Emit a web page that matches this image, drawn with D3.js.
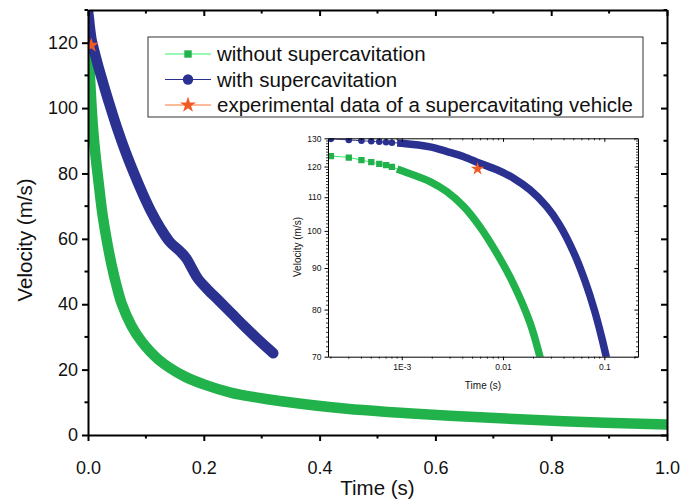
<!DOCTYPE html>
<html lang="en">
  <head>
    <script src="https://d3js.org/d3.v7.min.js"></script>
    <meta charset="utf-8"/>
    <title>Velocity vs time</title>
  </head>
  <body style="margin:0;background:#fff">
    <svg id="chart"></svg>
  </body>

  <style>
    svg text { font-family: Arial, "Liberation Sans", sans-serif; fill: #111; }
  </style>

  <script>
    // values
    const seriesNames = ["without supercavitation", "with supercavitation",
                         "experimental data of a supercavitating vehicle"];

    const greenT = [0.0002, 0.0003, 0.0004, 0.0005, 0.0006, 0.0007, 0.0008, 0.0009, 0.001,
                    0.0019, 0.0028, 0.0041, 0.0059, 0.0087, 0.0127, 0.0185, 0.025, 0.033,
                    0.041, 0.05, 0.058, 0.075, 0.093, 0.121, 0.167, 0.2, 0.248, 0.29,
                    0.331, 0.447, 0.533, 0.625, 0.821, 1.0];
    const greenV = [123.6, 123.1, 122.2, 121.5, 120.9, 120.5, 119.9, 119.2, 118.6,
                    115.0, 111.7, 107.1, 101.2, 93.8, 86.0, 77.0, 67.5, 59.0,
                    51.8, 45.2, 40.3, 33.4, 28.5, 23.2, 17.9, 15.5, 12.9, 11.5,
                    10.4, 8.0, 6.9, 5.9, 4.2, 3.2];

    const blueT = [0.0002, 0.0003, 0.0004, 0.0005, 0.0006, 0.0007, 0.0008, 0.0009, 0.001,
                   0.0019, 0.0028, 0.0041, 0.0059, 0.0087, 0.0127, 0.0185, 0.027, 0.036,
                   0.05, 0.065, 0.08, 0.095, 0.11, 0.125, 0.1416, 0.16, 0.17, 0.18, 0.19,
                   0.205, 0.225, 0.248, 0.271, 0.295, 0.32];
    const blueV = [129.8, 129.4, 129.1, 128.9, 128.75, 128.55, 128.4, 128.3, 128.2,
                   126.9, 125.2, 123.4, 121.1, 118.9, 116.1, 112.3, 107.1, 101.8,
                   94.0, 86.5, 79.8, 73.6, 68.0, 63.3, 59.0, 56.0, 54.0, 50.8, 47.8,
                   44.8, 41.3, 37.2, 33.1, 29.0, 25.0];

    const starT = [0.0056];
    const starV = [119.2];

    const mainXTicks = [0, 0.2, 0.4, 0.6, 0.8, 1.0];
    const mainYTicks = [0, 20, 40, 60, 80, 100, 120];
    const insetXTicks = [0.001, 0.01, 0.1];
    const insetXLabels = ["1E-3", "0.01", "0.1"];
    const insetYTicks = [70, 80, 90, 100, 110, 120, 130];

    const green = "#22b24c", blue = "#2b3190", orange = "#f15a24";

    const W = 689, H = 500;
    const svg = d3.select("#chart").attr("width", W).attr("height", H);

    const zip = (ts, vs) => ts.map((t, i) => ({t: t, v: vs[i]}));
    const greenData = zip(greenT, greenV);
    const blueData = zip(blueT, blueV);
    const starData = zip(starT, starV);

    // ---------- main plot ----------
    const m = {left: 88, right: 667, top: 10, bottom: 435};
    const x = d3.scaleLinear().domain([0, 1]).range([m.left, m.right]);
    const y = d3.scaleLinear().domain([0, 130]).range([m.bottom, m.top]);

    svg.append("clipPath").attr("id", "mainClip")
      .append("rect")
        .attr("x", m.left).attr("y", m.top)
        .attr("width", m.right - m.left).attr("height", m.bottom - m.top);

    const mainLine = d3.line()
      .x(d => x(d.t)).y(d => y(d.v))
      .curve(d3.curveCatmullRom.alpha(0.5));

    const curves = svg.append("g").attr("clip-path", "url(#mainClip)");
    curves.append("path")
      .datum(greenData)
      .attr("d", mainLine)
      .attr("fill", "none").attr("stroke", green)
      .attr("stroke-width", 10.5).attr("stroke-linecap", "round").attr("stroke-linejoin", "round");
    curves.append("path")
      .datum(blueData)
      .attr("d", mainLine)
      .attr("fill", "none").attr("stroke", blue)
      .attr("stroke-width", 10.5).attr("stroke-linecap", "round").attr("stroke-linejoin", "round");
    curves.selectAll(".star")
      .data(starData)
      .enter()
      .append("path")
        .attr("d", d3.symbol().type(d3.symbolStar).size(70))
        .attr("transform", d => "translate(" + x(d.t) + "," + y(d.v) + ")")
        .attr("fill", orange);

    // axes
    const styleAxis = (g, width) => {
      g.select(".domain").attr("stroke", "#000").attr("stroke-width", width);
      g.selectAll(".tick line").attr("stroke", "#000").attr("stroke-width", width);
    };

    const xMinor = d3.range(0.1, 1, 0.2);
    const yMinor = d3.range(10, 131, 20);

    const bottomAxis = svg.append("g")
      .attr("transform", "translate(0," + m.bottom + ")")
      .call(d3.axisBottom(x).tickValues(mainXTicks).tickFormat(d3.format(".1f"))
        .tickSizeInner(6).tickSizeOuter(0).tickPadding(20));
    bottomAxis.selectAll("text").attr("font-size", 18);
    bottomAxis.selectAll(".minor").data(xMinor).enter().append("line")
      .attr("x1", d => x(d)).attr("x2", d => x(d)).attr("y1", 0).attr("y2", 3.5);
    bottomAxis.selectAll("line").attr("stroke", "#000").attr("stroke-width", 2);
    styleAxis(bottomAxis, 2);

    const leftAxis = svg.append("g")
      .attr("transform", "translate(" + m.left + ",0)")
      .call(d3.axisLeft(y).tickValues(mainYTicks)
        .tickSizeInner(6).tickSizeOuter(0).tickPadding(4));
    leftAxis.selectAll("text").attr("font-size", 18);
    leftAxis.selectAll(".minor").data(yMinor).enter().append("line")
      .attr("y1", d => y(d)).attr("y2", d => y(d)).attr("x1", 0).attr("x2", -3.5);
    leftAxis.selectAll("line").attr("stroke", "#000").attr("stroke-width", 2);
    styleAxis(leftAxis, 2);

    const topAxis = svg.append("g")
      .attr("transform", "translate(0," + m.top + ")")
      .call(d3.axisTop(x).tickValues(mainXTicks).tickFormat("")
        .tickSizeInner(-6).tickSizeOuter(0));
    topAxis.selectAll(".minor").data(xMinor).enter().append("line")
      .attr("x1", d => x(d)).attr("x2", d => x(d)).attr("y1", 0).attr("y2", 3.5);
    topAxis.selectAll("line").attr("stroke", "#000").attr("stroke-width", 2);
    styleAxis(topAxis, 2);

    const rightAxis = svg.append("g")
      .attr("transform", "translate(" + m.right + ",0)")
      .call(d3.axisRight(y).tickValues(mainYTicks).tickFormat("")
        .tickSizeInner(-6).tickSizeOuter(0));
    rightAxis.selectAll(".minor").data(yMinor).enter().append("line")
      .attr("y1", d => y(d)).attr("y2", d => y(d)).attr("x1", 0).attr("x2", -3.5);
    rightAxis.selectAll("line").attr("stroke", "#000").attr("stroke-width", 2);
    styleAxis(rightAxis, 2);

    svg.append("text")
      .attr("x", (m.left + m.right) / 2).attr("y", 495)
      .attr("text-anchor", "middle").attr("font-size", 20.5)
      .text("Time (s)");
    svg.append("text")
      .attr("transform", "translate(32,240) rotate(-90)")
      .attr("text-anchor", "middle").attr("font-size", 20.5)
      .text("Velocity (m/s)");

    // ---------- legend ----------
    const legend = svg.append("g");
    legend.append("rect")
      .attr("x", 148).attr("y", 37).attr("width", 495).attr("height", 80)
      .attr("fill", "#fff").attr("stroke", "#333").attr("stroke-width", 1);
    const legendLine = [d3.color(green).brighter(0.9), blue, d3.color(orange).brighter(0.8)];
    const legendMarker = [d3.symbolSquare, d3.symbolCircle, d3.symbolStar];
    const legendFill = [green, blue, orange];
    const legendSize = [55, 85, 80];
    seriesNames.forEach((name, i) => {
      const ry = 54 + i * 25.5;
      legend.append("line")
        .attr("x1", 165).attr("x2", 211).attr("y1", ry).attr("y2", ry)
        .attr("stroke", legendLine[i]).attr("stroke-width", 1.2);
      legend.append("path")
        .attr("d", d3.symbol().type(legendMarker[i]).size(legendSize[i]))
        .attr("transform", "translate(188," + ry + ")")
        .attr("fill", legendFill[i]);
      legend.append("text")
        .attr("x", 217).attr("y", ry).attr("dy", "0.36em")
        .attr("font-size", 20.5)
        .text(name);
    });

    // ---------- inset ----------
    const n = {left: 328, right: 638, top: 138.3, bottom: 356.7};
    const xi = d3.scaleLog().domain([1.87e-4, 0.215]).range([n.left, n.right]);
    const yi = d3.scaleLog().domain([70, 130]).range([n.bottom, n.top]);

    svg.append("rect")
      .attr("x", n.left).attr("y", n.top)
      .attr("width", n.right - n.left).attr("height", n.bottom - n.top)
      .attr("fill", "#fff");

    svg.append("clipPath").attr("id", "insetClip")
      .append("rect")
        .attr("x", n.left).attr("y", n.top)
        .attr("width", n.right - n.left).attr("height", n.bottom - n.top);

    const insetLine = d3.line()
      .x(d => xi(d.t)).y(d => yi(d.v))
      .curve(d3.curveCatmullRom.alpha(0.5));

    const ins = svg.append("g").attr("clip-path", "url(#insetClip)");

    [[greenData, green, d3.symbolSquare, 40, 0.8], [blueData, blue, d3.symbolCircle, 34, 0]].forEach(s => {
      const data = s[0], col = s[1];
      ins.append("path")
        .datum(data)
        .attr("d", insetLine)
        .attr("fill", "none").attr("stroke", d3.color(col).brighter(s[4]))
        .attr("stroke-width", 1);
      ins.append("path")
        .datum(data.filter(d => d.t >= 0.0009))
        .attr("d", insetLine)
        .attr("fill", "none").attr("stroke", col)
        .attr("stroke-width", 7.5).attr("stroke-linejoin", "round");
      ins.selectAll(null)
        .data(data.filter(d => d.t < 0.0009))
        .enter()
        .append("path")
          .attr("d", d3.symbol().type(s[2]).size(s[3]))
          .attr("transform", d => "translate(" + xi(d.t) + "," + yi(d.v) + ")")
          .attr("fill", col);
    });
    ins.selectAll(".istar")
      .data(starData)
      .enter()
      .append("path")
        .attr("d", d3.symbol().type(d3.symbolStar).size(55))
        .attr("transform", d => "translate(" + xi(d.t) + "," + yi(d.v) + ")")
        .attr("fill", orange);

    // inset axes
    const xiMinor = [];
    [1e-4, 1e-3, 1e-2, 1e-1].forEach(dec => {
      for (let k = 2; k <= 9; k++) {
        const v = dec * k;
        if (v > 1.87e-4 && v < 0.215) xiMinor.push(v);
      }
    });
    const yiMinor = d3.range(71, 130).filter(v => v % 10 !== 0);

    const addMinor = (g, vals, horizontal, scale, len) => {
      g.selectAll(".minor").data(vals).enter().append("line")
        .attr("x1", d => horizontal ? scale(d) : 0)
        .attr("x2", d => horizontal ? scale(d) : len)
        .attr("y1", d => horizontal ? 0 : scale(d))
        .attr("y2", d => horizontal ? len : scale(d))
        .attr("stroke", "#000").attr("stroke-width", 0.8);
    };

    const iBottom = svg.append("g")
      .attr("transform", "translate(0," + n.bottom + ")")
      .call(d3.axisBottom(xi).tickValues(insetXTicks).tickFormat((d, i) => insetXLabels[i])
        .tickSizeInner(3.5).tickSizeOuter(0).tickPadding(4));
    iBottom.selectAll("text").attr("font-size", 8.5);
    addMinor(iBottom, xiMinor, true, xi, 2);
    styleAxis(iBottom, 1);

    const iTop = svg.append("g")
      .attr("transform", "translate(0," + n.top + ")")
      .call(d3.axisTop(xi).tickValues(insetXTicks).tickFormat("")
        .tickSizeInner(-3.5).tickSizeOuter(0));
    addMinor(iTop, xiMinor, true, xi, 2);
    styleAxis(iTop, 1);

    const iLeft = svg.append("g")
      .attr("transform", "translate(" + n.left + ",0)")
      .call(d3.axisLeft(yi).tickValues(insetYTicks).tickFormat(d3.format("d"))
        .tickSizeInner(3.5).tickSizeOuter(0).tickPadding(3));
    iLeft.selectAll("text").attr("font-size", 8.5);
    addMinor(iLeft, yiMinor, false, yi, -2);
    styleAxis(iLeft, 1);

    const iRight = svg.append("g")
      .attr("transform", "translate(" + n.right + ",0)")
      .call(d3.axisRight(yi).tickValues(insetYTicks).tickFormat("")
        .tickSizeInner(-3.5).tickSizeOuter(0));
    addMinor(iRight, yiMinor, false, yi, -2);
    styleAxis(iRight, 1);

    svg.append("text")
      .attr("x", 483).attr("y", 389)
      .attr("text-anchor", "middle").attr("font-size", 10)
      .text("Time (s)");
    svg.append("text")
      .attr("transform", "translate(300.5,247) rotate(-90)")
      .attr("text-anchor", "middle").attr("font-size", 10)
      .text("Velocity (m/s)");
  </script>
</html>
